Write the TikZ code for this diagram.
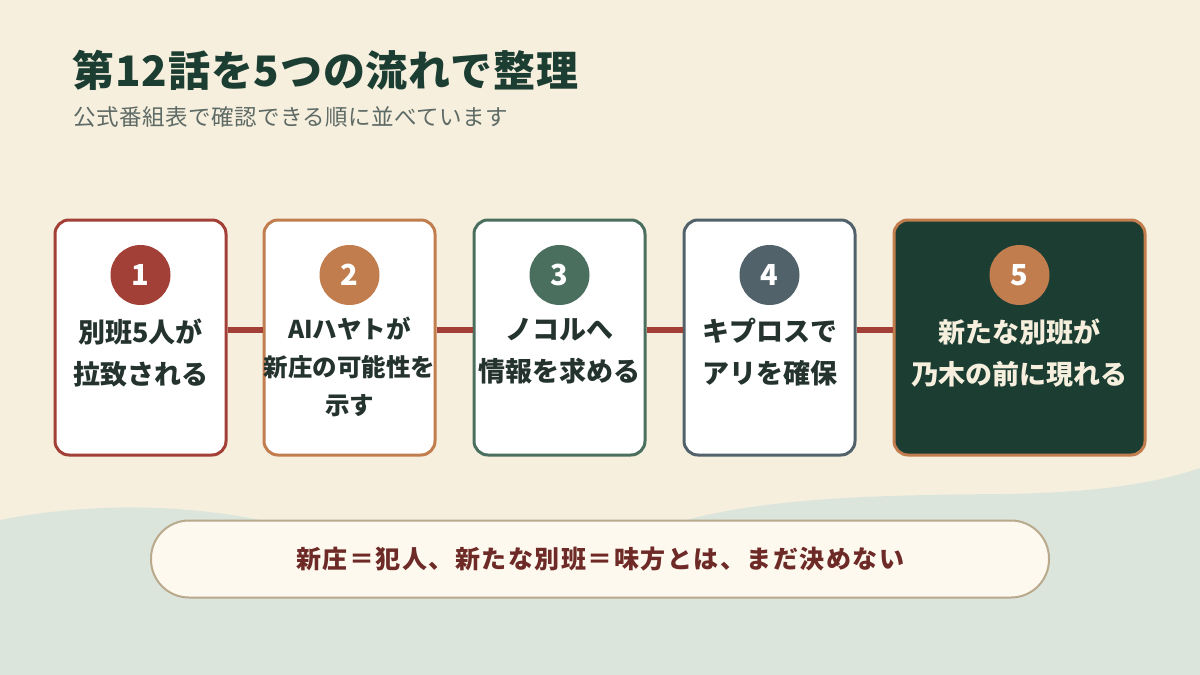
\documentclass[tikz,border=0pt]{standalone}
\usepackage{fontspec}
\setmainfont{Noto Sans CJK JP}
\definecolor{cream}{HTML}{F6EFDE}
\definecolor{sage}{HTML}{DCE5DC}
\definecolor{pine}{HTML}{1B3D32}
\definecolor{slate}{HTML}{5E6A65}
\definecolor{brick}{HTML}{A23F36}
\definecolor{copper}{HTML}{C17D4E}
\definecolor{moss}{HTML}{4A6F5F}
\definecolor{steel}{HTML}{52626A}
\definecolor{ink}{HTML}{24332E}
\definecolor{wine}{HTML}{6E2A26}
\definecolor{pillfill}{HTML}{FDF9EF}
\definecolor{pillline}{HTML}{B9A98D}

\begin{document}
\begin{tikzpicture}[x=1pt,y=-1pt,
    card/.style={draw=#1,line width=3pt,rounded corners=14pt,fill=white,
        minimum width=171pt,minimum height=235pt,inner sep=0pt},
    numdot/.style={circle,fill=#1,minimum size=60pt,inner sep=0pt,text=white,
        font=\fontsize{29}{29}\selectfont\bfseries},
    cardtext/.style={anchor=north,align=center,text=ink,
        font=\fontsize{27}{42}\selectfont\bfseries},
    link/.style={draw=brick,line width=6pt}]

    % Background
    \fill[cream] (0,0) rectangle (1200,675);
    \fill[sage] (0,520) .. controls (60,508) and (150,500) .. (250,518)
        .. controls (400,550) and (600,545) .. (690,519)
        .. controls (780,496) and (900,495) .. (1000,494)
        .. controls (1100,493) and (1160,482) .. (1200,468)
        -- (1200,675) -- (0,675) -- cycle;
    \useasboundingbox (0,0) rectangle (1200,675);

    % Title
    \node[anchor=west,text=pine,font=\fontsize{42}{42}\selectfont\bfseries\addfontfeature{LetterSpace=2}] (title) at (69,70) {第12話を5つの流れで整理};
    \node[anchor=west,text=slate,font=\fontsize{22.5}{22.5}\selectfont\addfontfeature{LetterSpace=2}] (subtitle) at (70,117) {公式番組表で確認できる順に並べています};

    % Cards
    \node[card=brick] (c1) at (140.5,337.5) {};
    \node[card=copper] (c2) at (349.5,337.5) {};
    \node[card=moss] (c3) at (559.5,337.5) {};
    \node[card=steel] (c4) at (769.5,337.5) {};
    \node[card=copper,fill=pine,minimum width=251pt] (c5) at (1019.5,337.5) {};

    % Links
    \draw[link] ([yshift=8pt]c1.east) -- ([yshift=8pt]c2.west);
    \draw[link] ([yshift=8pt]c2.east) -- ([yshift=8pt]c3.west);
    \draw[link] ([yshift=8pt]c3.east) -- ([yshift=8pt]c4.west);
    \draw[link] ([yshift=8pt]c4.east) -- ([yshift=8pt]c5.west);

    % Numbers
    \node[numdot=brick] (n1) at (140.5,275) {1};
    \node[numdot=copper] (n2) at (349.5,275) {2};
    \node[numdot=moss] (n3) at (559.5,275) {3};
    \node[numdot=steel] (n4) at (769.5,275) {4};
    \node[numdot=copper] (n5) at (1019.5,275) {5};

    % Texts
    \node[cardtext] (t1) at (140.5,315) {別班5人が\\拉致される};
    \node[cardtext,font=\fontsize{24.5}{38}\selectfont\bfseries] (t2) at (349.5,313) {AIハヤトが\\新庄の可能性を\\示す};
    \node[cardtext] (t3) at (559.5,315) {ノコルへ\\情報を求める};
    \node[cardtext] (t4) at (769.5,315) {キプロスで\\アリを確保};
    \node[cardtext,text=cream] (t5) at (1019.5,315) {新たな別班が\\乃木の前に現れる};

    % Note
    \node[draw=pillline,line width=2pt,fill=pillfill,rounded corners=38pt,
        minimum width=898pt,minimum height=77pt,text=wine,
        font=\fontsize{25}{25}\selectfont\bfseries\addfontfeature{LetterSpace=6}] (note) at (600,559)
        {新庄＝犯人、新たな別班＝味方とは、まだ決めない};
\end{tikzpicture}
\end{document}
